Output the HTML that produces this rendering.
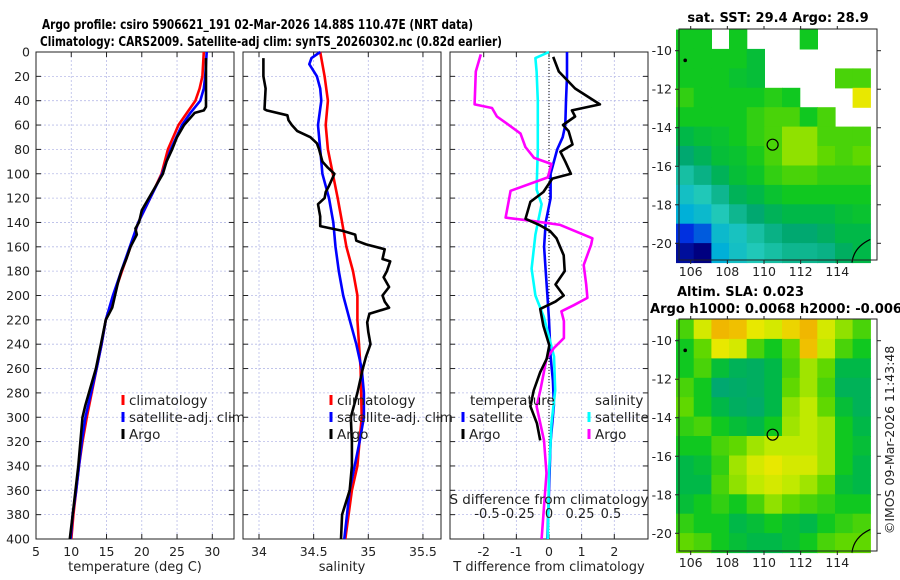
<!DOCTYPE html>
<html><head><meta charset="utf-8"><style>
html,body{margin:0;padding:0;background:#fff;}
svg{display:block;font-family:"DejaVu Sans","Liberation Sans",sans-serif;}
</style></head><body>
<svg id="fig" width="900" height="580" viewBox="0 0 900 580" xmlns="http://www.w3.org/2000/svg">
<text x="42" y="29" font-size="13" font-weight="bold" textLength="431" lengthAdjust="spacingAndGlyphs">Argo profile: csiro 5906621_191 02-Mar-2026 14.88S 110.47E (NRT data)</text>
<text x="40" y="46" font-size="13" font-weight="bold" textLength="462" lengthAdjust="spacingAndGlyphs">Climatology: CARS2009. Satellite-adj clim: synTS_20260302.nc (0.82d earlier)</text>
<text x="778" y="22" font-size="13" font-weight="bold" text-anchor="middle">sat. SST: 29.4 Argo: 28.9</text>
<text x="677" y="296" font-size="13" font-weight="bold">Altim. SLA: 0.023</text>
<text x="650" y="313" font-size="13" font-weight="bold" textLength="252" lengthAdjust="spacingAndGlyphs">Argo h1000: 0.0068 h2000: -0.006</text>
<text transform="translate(894,440) rotate(-90)" font-size="12.5" text-anchor="middle" fill="#222">©IMOS 09-Mar-2026 11:43:48</text>
<g id="plots"></g>
</svg>
<script>
// ---------- data ----------
const depthTicks=[0,20,40,60,80,100,120,140,160,180,200,220,240,260,280,300,320,340,360,380,400];
const tempTicks=[5,10,15,20,25,30];
const salTicks=[34,34.5,35,35.5];
const tdiffTicks=[-2,-1,0,1,2];
const sdiffTicks=[-0.5,-0.25,0,0.25,0.5];
const lonTicks=[106,108,110,112,114];
const latTicks=[-10,-12,-14,-16,-18,-20];

const tClimDepth=[0,20,30,40,50,60,80,100,120,140,160,180,200,220,240,260,280,300,320,340,360,380,400];
const tClimVal=[28.8,28.6,28.2,27.6,26.4,25.2,23.7,22.8,21.2,19.5,18.4,17.2,16.0,14.9,14.3,13.6,12.9,12.2,11.6,11.1,10.7,10.3,10.0];
const tSatDepth=[0,20,30,40,50,60,80,100,120,140,160,180,200,220,240,260,280,300,320,340,360,380,400];
const tSatVal=[29.2,29.0,28.8,28.3,26.9,25.7,24.1,22.9,21.2,19.5,18.3,17.1,15.9,14.9,14.3,13.6,12.8,12.0,11.5,11.1,10.7,10.2,9.9];
const tArgoDepth=[5,45,48,50,60,70,80,90,100,110,120,130,140,145,150,160,170,180,190,200,210,220,240,260,280,290,300,320,340,360,380,400];
const tArgoVal=[29.1,29.1,28.8,27.5,26.0,25.0,24.3,23.5,23.0,22.0,21.0,20.0,19.6,19.1,19.3,18.4,17.8,17.1,16.6,16.2,15.8,14.9,14.2,13.5,12.5,12.0,11.6,11.3,11.0,10.6,10.2,9.8];

const sClimDepth=[0,20,40,60,80,100,120,140,160,180,200,220,260,300,340,360,400];
const sClimVal=[34.56,34.60,34.63,34.61,34.63,34.675,34.72,34.76,34.80,34.86,34.90,34.90,34.93,34.94,34.90,34.85,34.79];
const sSatDepth=[0,5,10,20,30,40,60,80,100,120,140,160,180,200,220,240,260,280,300,320,360,400];
const sSatVal=[34.56,34.48,34.46,34.53,34.56,34.57,34.54,34.56,34.58,34.64,34.68,34.70,34.73,34.77,34.83,34.89,34.94,34.96,34.96,34.92,34.83,34.78];
const sArgoDepth=[5,20,30,47,48,52,56,60,65,70,75,80,90,95,100,110,115,120,125,130,135,140,143,147,150,155,158,162,170,172,180,185,193,200,205,210,215,222,230,240,250,260,280,300,320,340,360,380,400];
const sArgoVal=[34.04,34.04,34.06,34.05,34.07,34.26,34.27,34.30,34.35,34.47,34.53,34.55,34.58,34.63,34.69,34.64,34.61,34.60,34.54,34.55,34.56,34.56,34.56,34.77,34.88,34.89,34.98,35.15,35.13,35.20,35.17,35.14,35.19,35.13,35.15,35.19,35.01,34.99,35.00,35.02,34.98,34.95,34.90,34.84,34.85,34.85,34.83,34.76,34.75];

const dtSatDepth=[0,20,40,60,70,80,90,100,120,140,160,180,200,220,250,270,290,320,360,400];
const dtSatVal=[0.55,0.55,0.52,0.50,0.42,0.25,0.15,0.05,0.05,-0.10,-0.15,-0.10,-0.05,0.0,0.05,0.12,0.15,0.05,0.0,-0.05];
const dtArgoDepth=[4,16,30,43,48,53,60,65,76,82,90,100,104,115,123,137,142,147,153,167,180,191,200,205,211,225,241,252,263,278,291,305,319];
const dtArgoVal=[0.13,0.30,0.80,1.56,0.70,0.80,0.43,0.60,0.72,0.35,0.50,0.67,0.10,-0.17,-0.57,-0.72,-0.30,0.03,0.23,0.45,0.48,0.20,0.45,0.20,-0.27,-0.17,0.01,-0.07,-0.27,-0.47,-0.57,-0.37,-0.27];
const dsSatDepth=[0,5,16,40,80,113,125,150,178,200,218,250,278,305,346,400];
const dsSatVal=[0.0,-0.11,-0.10,-0.09,-0.09,-0.10,-0.06,-0.11,-0.14,-0.11,-0.04,0.04,0.05,0.02,0.0,-0.01];
const dsArgoDepth=[2,16,43,46,53,61,67,78,87,92,103,114,125,136,139,142,153,158,175,191,202,208,213,221,235,243,252,278,291,319,346,400];
const dsArgoVal=[-0.55,-0.59,-0.60,-0.46,-0.42,-0.31,-0.23,-0.19,-0.12,0.02,-0.01,-0.31,-0.33,-0.35,-0.12,0.09,0.35,0.34,0.28,0.30,0.31,0.20,0.10,0.12,0.12,0.04,-0.02,-0.07,-0.10,-0.04,-0.02,-0.06];

const N=null;
const sstGrid=[
[.55,.55,N,.55,N,N,N,.55,N,N,N],
[.55,.55,.55,.55,.52,N,N,N,N,N,N],
[.55,.55,.55,.53,.52,N,N,N,N,.6,.6],
[.58,.55,.55,.55,.55,.57,.55,N,N,N,.72],
[.55,.55,.55,.55,.58,.6,.6,.55,.6,N,N],
[.5,.52,.53,.55,.58,.6,.65,.65,.6,.6,.6],
[.45,.48,.52,.53,.56,.6,.65,.65,.62,.6,.62],
[.4,.43,.48,.52,.54,.58,.6,.6,.58,.58,.58],
[.35,.38,.42,.48,.5,.53,.55,.55,.55,.55,.55],
[.3,.33,.38,.42,.45,.48,.5,.5,.5,.52,.53],
[.15,.2,.33,.36,.4,.43,.45,.45,.47,.5,.5],
[.1,.08,.3,.35,.38,.4,.42,.42,.43,.47,.5]];
const slaGrid=[
[.6,.7,.8,.78,.72,.7,.75,.8,.7,.65,.6],
[.55,.62,.72,.7,.6,.55,.62,.78,.68,.6,.55],
[.55,.6,.52,.48,.47,.5,.6,.66,.62,.5,.5],
[.6,.55,.45,.46,.47,.5,.62,.66,.6,.48,.48],
[.62,.55,.5,.47,.46,.5,.65,.68,.62,.52,.48],
[.58,.6,.55,.52,.5,.55,.66,.68,.66,.55,.5],
[.55,.55,.6,.62,.66,.68,.68,.68,.66,.55,.52],
[.5,.52,.58,.66,.7,.72,.7,.7,.66,.55,.5],
[.5,.5,.6,.65,.68,.7,.68,.66,.62,.52,.5],
[.52,.55,.58,.55,.6,.65,.62,.6,.58,.55,.55],
[.58,.55,.55,.5,.52,.55,.52,.5,.55,.58,.6],
[.62,.6,.55,.52,.5,.5,.52,.55,.6,.62,.62]];
const argoLon=[110.47], argoLat=[-14.88];

// ---------- helpers ----------
const NS="http://www.w3.org/2000/svg";
const root=document.getElementById('plots');
function mk(tag,attrs,parent){const e=document.createElementNS(NS,tag);for(const k in attrs)e.setAttribute(k,attrs[k]);(parent||root).appendChild(e);return e;}
function txt(s,x,y,opt,parent){const e=mk('text',Object.assign({x:x,y:y,'font-size':12.5,fill:'#222'},opt||{}),parent);e.textContent=s;return e;}
const PT=52,PB=539;
const yD=d=>PT+(d/400)*(PB-PT);
function lin(d0,d1,r0,r1){return v=>r0+(v-d0)/(d1-d0)*(r1-r0);}

function panel(name,x0,x1,xs,xticks,xlabel,fmt){
  const g=mk('g',{});
  
  
  xticks.forEach(t=>{const x=xs(t);mk('line',{x1:x,x2:x,y1:PT,y2:PB,stroke:'#b8bce8','stroke-width':0.8,'stroke-dasharray':'2,2'},g);
    mk('line',{x1:x,x2:x,y1:PB,y2:PB-5,stroke:'#222'},g);mk('line',{x1:x,x2:x,y1:PT,y2:PT+5,stroke:'#222'},g);
    const l=txt(fmt(t),x,556,{'text-anchor':'middle'},g);});
  depthTicks.forEach(d=>{const y=yD(d);mk('line',{x1:x0,x2:x1,y1:y,y2:y,stroke:'#b8bce8','stroke-width':0.8,'stroke-dasharray':'2,2'},g);
    mk('line',{x1:x0,x2:x0+5,y1:y,y2:y,stroke:'#222'},g);mk('line',{x1:x1-5,x2:x1,y1:y,y2:y,stroke:'#222'},g);});
  mk('rect',{x:x0,y:PT,width:x1-x0,height:PB-PT,fill:'none',stroke:'#222','stroke-width':1},g);
  const xl=txt(xlabel,(x0+x1)/2,571,{'text-anchor':'middle','font-size':13},g);
  
  return g;
}
function series(g,name,depths,vals,xs,color,w){
  const pts=depths.map((d,i)=>xs(vals[i]).toFixed(1)+','+yD(d).toFixed(1)).join(' ');
  const p=mk('polyline',{points:pts,fill:'none',stroke:color,'stroke-width':w||2.6,'stroke-linejoin':'round'},g);
  
  
}
function legendEntry(g,name,x,y,color,label){
  const e=mk('g',{},g);
  
  
  mk('line',{x1:x,x2:x,y1:y-10,y2:y,stroke:color,'stroke-width':3},e);
  txt(label,x+6,y,{'font-size':13.5},e);
}

depthTicks.forEach(d=>{const l=txt(String(d),30,yD(d)+4.5,{'text-anchor':'end'});
  });

const xT=lin(5,30,36,212.3);
const g1=panel('temperature-panel',36,234,xT,tempTicks,'temperature (deg C)',String);
series(g1,'temp-climatology-line',tClimDepth,tClimVal,xT,'#f00');
series(g1,'temp-satellite-line',tSatDepth,tSatVal,xT,'#00f');
series(g1,'temp-argo-line',tArgoDepth,tArgoVal,xT,'#000');
legendEntry(g1,'legend-climatology',123,405,'#f00','climatology');
legendEntry(g1,'legend-satellite',123,422,'#00f','satellite-adj. clim');
legendEntry(g1,'legend-argo',123,439,'#000','Argo');

const xS=lin(34,35,259,368.3);
const g2=panel('salinity-panel',243,441,xS,salTicks,'salinity',String);
series(g2,'sal-climatology-line',sClimDepth,sClimVal,xS,'#f00');
series(g2,'sal-satellite-line',sSatDepth,sSatVal,xS,'#00f');
series(g2,'sal-argo-line',sArgoDepth,sArgoVal,xS,'#000');
legendEntry(g2,'legend-climatology',331,405,'#f00','climatology');
legendEntry(g2,'legend-satellite',331,422,'#00f','satellite-adj. clim');
legendEntry(g2,'legend-argo',331,439,'#000','Argo');

const xDT=lin(0,2,549,614.3);
const xDS=lin(0,0.5,549,611);
const g3=panel('difference-panel',450,648,xDT,tdiffTicks,'T difference from climatology',String);
mk('line',{x1:xDT(0),x2:xDT(0),y1:PT,y2:PB,stroke:'#000','stroke-width':1,'stroke-dasharray':'1,2'},g3);
series(g3,'dt-satellite-line',dtSatDepth,dtSatVal,xDT,'#00f');
series(g3,'ds-satellite-line',dsSatDepth,dsSatVal,xDS,'#0ff');
series(g3,'ds-argo-line',dsArgoDepth,dsArgoVal,xDS,'#f0f');
series(g3,'dt-argo-line',dtArgoDepth,dtArgoVal,xDT,'#000');
txt('temperature',470,405,{'font-size':13.5},g3);
txt('salinity',595,405,{'font-size':13.5},g3);
legendEntry(g3,'legend-t-satellite',463,422,'#00f','satellite');
legendEntry(g3,'legend-t-argo',463,439,'#000','Argo');
legendEntry(g3,'legend-s-satellite',589,422,'#0ff','satellite');
legendEntry(g3,'legend-s-argo',589,439,'#f0f','Argo');
const st=txt('S difference from climatology',549,504,{'text-anchor':'middle','font-size':13.5},g3);

sdiffTicks.forEach(t=>{const l=txt(String(t),xDS(t),518,{'text-anchor':'middle','font-size':13},g3);
  });

const stops=[[0.08,[0,0,128]],[0.15,[0,48,224]],[0.3,[0,176,216]],[0.38,[32,200,184]],[0.45,[0,168,112]],[0.5,[0,184,72]],[0.55,[16,200,32]],[0.62,[96,216,0]],[0.68,[192,234,0]],[0.72,[232,232,0]],[0.78,[240,192,0]],[0.85,[240,160,0]]];
function cmap(v){if(v<=stops[0][0])return 'rgb('+stops[0][1]+')';
  for(let i=1;i<stops.length;i++){if(v<=stops[i][0]){const a=stops[i-1],b=stops[i],f=(v-a[0])/(b[0]-a[0]);
    return 'rgb('+a[1].map((c,k)=>Math.round(c+(b[1][k]-c)*f)).join(',')+')';}}
  return 'rgb('+stops[stops.length-1][1]+')';}
function map(name,grid,top,bottom){
  const g=mk('g',{});
  
  
  const L=679,R=877;
  const xs=lin(106,114,690.7,837.3), ys=lin(-10,-20,top+21.7,top+214.3);
  const lon0=105.2,lon1=115.8,lat0=-8.9,lat1=-21;
  const nr=grid.length,nc=grid[0].length,dlon=(lon1-lon0)/nc,dlat=(lat0-lat1)/nr;
  grid.forEach((row,r)=>row.forEach((v,c)=>{if(v===null)return;
    const x=xs(lon0+c*dlon),x2=xs(lon0+(c+1)*dlon),y=ys(lat0-r*dlat),y2=ys(lat0-(r+1)*dlat);
    const cell=mk('rect',{x:x.toFixed(1),y:y.toFixed(1),width:(x2-x+0.6).toFixed(1),height:(y2-y+0.6).toFixed(1),fill:cmap(v)},g);
    
    }));
  mk('path',{d:`M${xs(114.8)} ${ys(-21)} Q${xs(114.9)} ${ys(-20.2)} ${xs(115.8)} ${ys(-19.8)}`,fill:'none',stroke:'#000','stroke-width':1.2},g);
  mk('circle',{cx:xs(105.7),cy:ys(-10.5),r:1.8,fill:'#000'},g);
  const c=mk('circle',{cx:xs(argoLon[0]),cy:ys(argoLat[0]),r:5.5,fill:'none',stroke:'#000','stroke-width':1.2},g);
  
  
  mk('rect',{x:L,y:top,width:R-L,height:bottom-top,fill:'none',stroke:'#222','stroke-width':1},g);
  lonTicks.forEach(t=>{const x=xs(t);mk('line',{x1:x,x2:x,y1:bottom,y2:bottom+4,stroke:'#222'},g);
    mk('line',{x1:x,x2:x,y1:top,y2:top-3,stroke:'#222'},g);
    const l=txt(String(t),x,bottom+16,{'text-anchor':'middle'},g);});
  latTicks.forEach(t=>{const y=ys(t);mk('line',{x1:L,x2:L-4,y1:y,y2:y,stroke:'#222'},g);
    mk('line',{x1:R,x2:R+4,y1:y,y2:y,stroke:'#222'},g);
    const l=txt(String(t),672,y+4.5,{'text-anchor':'end'},g);});
}
map('sst-map',sstGrid,29,260);
map('sla-map',slaGrid,319,551);
</script>
</body></html>
